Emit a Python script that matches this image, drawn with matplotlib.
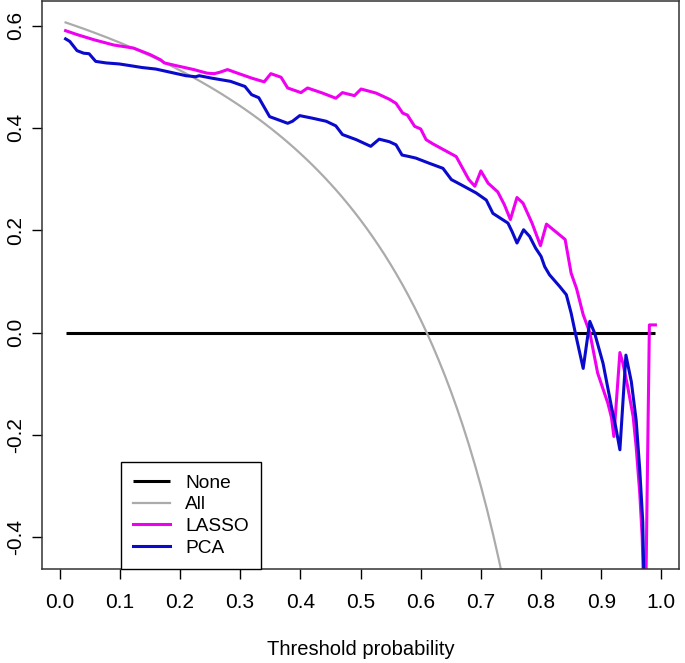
import matplotlib
matplotlib.use("Agg")
import matplotlib.pyplot as plt

plt.rcParams['font.family'] = ['Liberation Sans', 'DejaVu Sans']

# ---- data ----
none_t = [0.01, 0.99]
none_v = [0.0, 0.0]

all_t = [0.01, 0.02, 0.03, 0.04, 0.05, 0.06, 0.07, 0.08, 0.09, 0.10,
         0.11, 0.12, 0.13, 0.14, 0.15, 0.16, 0.17, 0.18, 0.19, 0.20,
         0.21, 0.22, 0.23, 0.24, 0.25, 0.26, 0.27, 0.28, 0.29, 0.30,
         0.31, 0.32, 0.33, 0.34, 0.35, 0.36, 0.37, 0.38, 0.39, 0.40,
         0.41, 0.42, 0.43, 0.44, 0.45, 0.46, 0.47, 0.48, 0.49, 0.50,
         0.51, 0.52, 0.53, 0.54, 0.55, 0.56, 0.57, 0.58, 0.59, 0.60,
         0.61, 0.62, 0.63, 0.64, 0.65, 0.66, 0.67, 0.68, 0.69, 0.70,
         0.71, 0.72, 0.73, 0.74]
all_v = [0.6061, 0.6020, 0.5979, 0.5938, 0.5895, 0.5851, 0.5806, 0.5761, 0.5714, 0.5667,
         0.5618, 0.5568, 0.5517, 0.5465, 0.5412, 0.5357, 0.5301, 0.5244, 0.5185, 0.5125,
         0.5063, 0.5000, 0.4935, 0.4868, 0.4800, 0.4730, 0.4658, 0.4583, 0.4507, 0.4429,
         0.4348, 0.4265, 0.4179, 0.4091, 0.4000, 0.3906, 0.3810, 0.3710, 0.3607, 0.3500,
         0.3390, 0.3276, 0.3158, 0.3036, 0.2909, 0.2778, 0.2642, 0.2500, 0.2353, 0.2200,
         0.2041, 0.1875, 0.1702, 0.1522, 0.1333, 0.1136, 0.0930, 0.0714, 0.0488, 0.0250,
         0.0000, -0.0263, -0.0541, -0.0833, -0.1143, -0.1471, -0.1818, -0.2188, -0.2581, -0.3000,
         -0.3448, -0.3929, -0.4444, -0.5000]

lasso_t = [0.01, 0.03, 0.058, 0.09, 0.123, 0.151, 0.168, 0.174, 0.20, 0.223,
           0.245, 0.257, 0.267, 0.279, 0.298, 0.320, 0.340, 0.351, 0.368, 0.379,
           0.401, 0.412, 0.437, 0.459, 0.470, 0.490, 0.501, 0.526, 0.548, 0.559,
           0.570, 0.578, 0.590, 0.600, 0.609, 0.620, 0.659, 0.680, 0.690, 0.700,
           0.712, 0.728, 0.739, 0.749, 0.760, 0.770, 0.785, 0.799, 0.809, 0.840,
           0.850, 0.859, 0.870, 0.881, 0.894, 0.911, 0.917, 0.921, 0.931, 0.936,
           0.944, 0.953, 0.958, 0.964, 0.968, 0.973, 0.980, 0.990]
lasso_v = [0.590, 0.582, 0.572, 0.562, 0.556, 0.543, 0.533, 0.527, 0.520, 0.514,
           0.507, 0.506, 0.509, 0.514, 0.506, 0.497, 0.490, 0.506, 0.499, 0.478,
           0.469, 0.478, 0.468, 0.458, 0.469, 0.463, 0.476, 0.468, 0.456, 0.448,
           0.429, 0.425, 0.403, 0.398, 0.377, 0.369, 0.344, 0.299, 0.286, 0.316,
           0.292, 0.275, 0.250, 0.221, 0.264, 0.253, 0.214, 0.170, 0.212, 0.182,
           0.116, 0.086, 0.035, 0.000, -0.079, -0.138, -0.166, -0.203, -0.039, -0.060,
           -0.106, -0.164, -0.223, -0.314, -0.399, -0.600, 0.015, 0.015]

pca_t = [0.01, 0.017, 0.029, 0.040, 0.049, 0.060, 0.077, 0.099, 0.121, 0.137,
         0.160, 0.187, 0.210, 0.226, 0.232, 0.254, 0.284, 0.308, 0.319, 0.331,
         0.349, 0.363, 0.379, 0.387, 0.399, 0.420, 0.443, 0.459, 0.470, 0.493,
         0.517, 0.531, 0.548, 0.559, 0.569, 0.581, 0.592, 0.614, 0.637, 0.651,
         0.667, 0.692, 0.709, 0.720, 0.745, 0.752, 0.760, 0.771, 0.781, 0.791,
         0.800, 0.806, 0.814, 0.831, 0.842, 0.850, 0.857, 0.870, 0.881, 0.889,
         0.903, 0.917, 0.924, 0.931, 0.941, 0.950, 0.958, 0.964, 0.969, 0.972]
pca_v = [0.574, 0.569, 0.551, 0.546, 0.545, 0.530, 0.527, 0.525, 0.521, 0.518,
         0.515, 0.508, 0.502, 0.500, 0.502, 0.497, 0.491, 0.481, 0.465, 0.459,
         0.422, 0.416, 0.409, 0.413, 0.424, 0.419, 0.413, 0.404, 0.387, 0.377,
         0.364, 0.378, 0.373, 0.367, 0.347, 0.344, 0.341, 0.331, 0.321, 0.299,
         0.289, 0.273, 0.259, 0.233, 0.214, 0.197, 0.175, 0.201, 0.188, 0.165,
         0.149, 0.129, 0.113, 0.090, 0.074, 0.038, -0.001, -0.070, 0.022, -0.001,
         -0.060, -0.145, -0.184, -0.229, -0.044, -0.096, -0.171, -0.268, -0.370, -0.550]

x_ticks = [0.0, 0.1, 0.2, 0.3, 0.4, 0.5, 0.6, 0.7, 0.8, 0.9, 1.0]
x_labels = ["0.0", "0.1", "0.2", "0.3", "0.4", "0.5", "0.6", "0.7", "0.8", "0.9", "1.0"]
y_ticks = [-0.4, -0.2, 0.0, 0.2, 0.4, 0.6]
y_labels = ["-0.4", "-0.2", "0.0", "0.2", "0.4", "0.6"]
series_names = ["None", "All", "LASSO", "PCA"]

# ---- figure ----
fig = plt.figure(figsize=(6.85, 6.63), dpi=100)
ax = fig.add_axes([42/685, 1 - 569/663, 637/685, 568/663])

ax.plot(none_t, none_v, color="black", lw=2.2, label=series_names[0], solid_capstyle="butt")
ax.plot(all_t, all_v, color="#ababab", lw=1.6, label=series_names[1])
ax.plot(lasso_t, lasso_v, color="#f000f0", lw=2.2, label=series_names[2])
ax.plot(pca_t, pca_v, color="#0a0acd", lw=2.2, label=series_names[3])

ax.set_xlim(-0.0292, 1.0292)
ax.set_ylim(-0.462, 0.648)

ax.set_xticks(x_ticks)
ax.set_xticklabels(x_labels)
ax.set_yticks(y_ticks)
ax.set_yticklabels(y_labels, rotation=90, va="center")
ax.tick_params(axis="both", labelsize=15, length=7.5, width=1, colors="black")
ax.tick_params(axis="x", pad=10)
ax.tick_params(axis="y", pad=5)
for s in ax.spines.values():
    s.set_linewidth(1.1)
    s.set_color("#333333")

ax.set_xlabel("Threshold probability", fontsize=14.5, labelpad=20)

leg = ax.legend(loc="lower left", bbox_to_anchor=(0.124, 0.0), borderaxespad=0,
                fontsize=13.8, frameon=True, fancybox=False, edgecolor="black",
                handlelength=1.9, handletextpad=0.8, labelspacing=0.22,
                borderpad=0.65)
leg.get_frame().set_linewidth(1.0)
leg.get_frame().set_alpha(1)

fig.savefig("out.png", dpi=100)
